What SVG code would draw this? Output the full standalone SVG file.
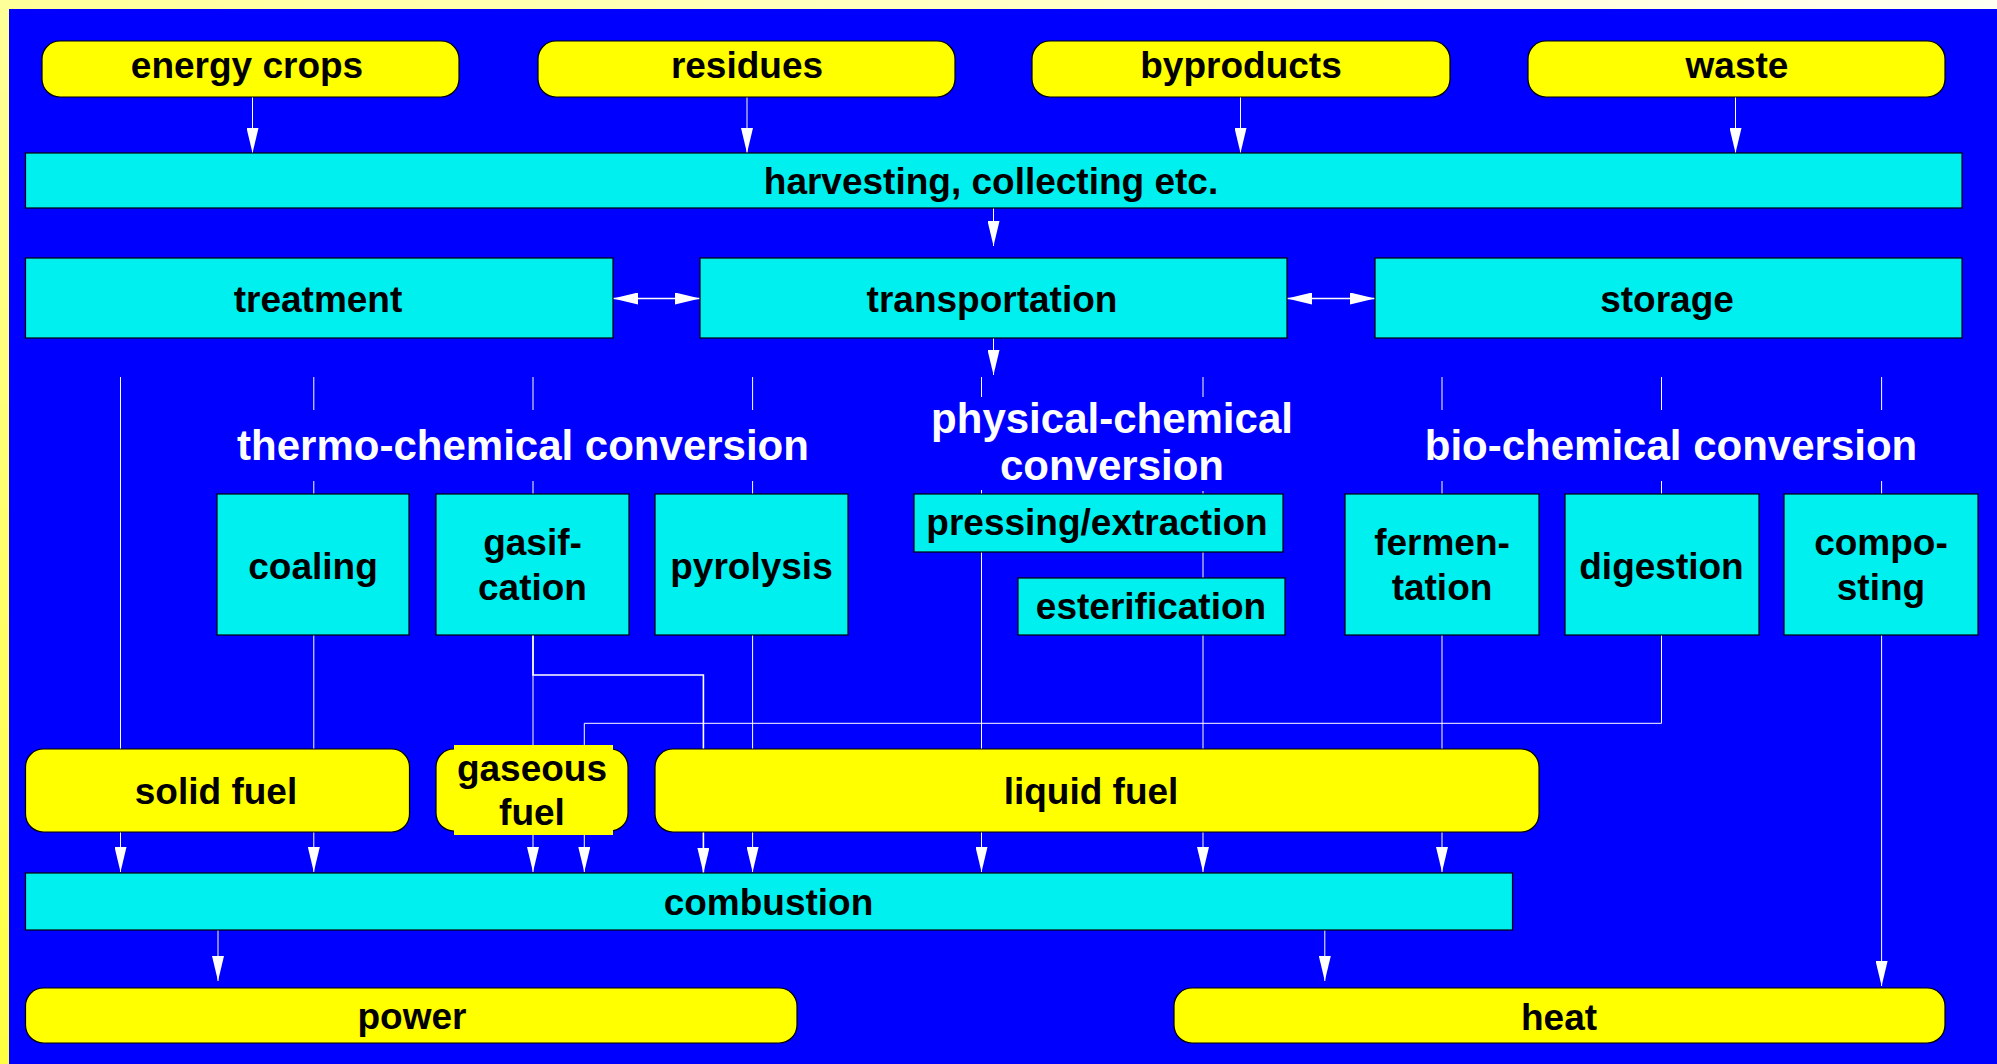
<svg xmlns="http://www.w3.org/2000/svg" width="1997" height="1064" viewBox="0 0 1997 1064">
<defs>
<linearGradient id="frame" x1="0" y1="1" x2="1" y2="0">
<stop offset="0" stop-color="#FFFF40"/>
<stop offset="0.5" stop-color="#FFFF99"/>
<stop offset="1" stop-color="#FFFFF2"/>
</linearGradient>
<marker id="ah" viewBox="0 0 25 12" refX="25" refY="6" markerWidth="25" markerHeight="12" markerUnits="userSpaceOnUse" orient="auto-start-reverse">
<path d="M0,0 L25,6 L0,12 z" fill="#FFFFFF"/>
</marker>
<style>
.y{fill:#FFFF00;stroke:#000;stroke-width:1.2}
.c{fill:#00EFEF;stroke:#000;stroke-width:1.2}
.t{font-family:"Liberation Sans",Arial,sans-serif;font-weight:bold;font-size:37px;fill:#000;text-anchor:middle}
.h{font-family:"Liberation Sans",Arial,sans-serif;font-weight:bold;font-size:42px;fill:#FFFFFF;text-anchor:middle}
.l{fill:none;stroke:#FFFFFF;stroke-width:1}
.a{fill:none;stroke:#FFFFFF;stroke-width:1;marker-end:url(#ah)}
.d{fill:none;stroke:#FFFFFF;stroke-width:1.5;marker-end:url(#ah);marker-start:url(#ah)}
</style>
</defs>
<rect x="0" y="0" width="1997" height="1064" fill="url(#frame)"/>
<rect x="9" y="9" width="1988" height="1055" fill="#0000FF"/>

<g id="connectors">
<path class="a" d="M252.5,97 V153"/>
<path class="a" d="M747,97 V153"/>
<path class="a" d="M1240.5,97 V153"/>
<path class="a" d="M1735.5,97 V153"/>
<path class="a" d="M993.5,208 V246"/>
<path class="d" d="M613,298.5 H700"/>
<path class="d" d="M1287,298.5 H1375"/>
<path class="a" d="M993.5,338 V375"/>
<path class="a" d="M120.5,377 V872"/>
<path class="l" d="M313.8,377 V410"/>
<path class="a" d="M313.8,481 V872"/>
<path class="l" d="M533,377 V410"/>
<path class="a" d="M533,481 V872"/>
<path class="l" d="M752.6,377 V410"/>
<path class="a" d="M752.6,481 V872"/>
<path class="l" d="M981.5,377 V397"/>
<path class="a" d="M981.5,490 V872"/>
<path class="l" d="M1203,377 V397"/>
<path class="a" d="M1203,491 V872"/>
<path class="l" d="M1442,377 V410"/>
<path class="a" d="M1442,481 V872"/>
<path class="l" d="M1661.5,377 V410"/>
<path class="a" d="M1661.5,481 V723.3 H584.3 V872"/>
<path class="l" d="M1881.6,377 V410"/>
<path class="a" d="M1881.6,481 V986"/>
<path class="a" style="stroke-width:1.6" d="M533,635 V675 H703.4 V873"/>
<path class="a" d="M218,930 V981"/>
<path class="a" d="M1324.8,930 V981"/>
</g>

<g id="energy-crops"><rect class="y" x="42" y="41" width="417" height="56" rx="18"/><text class="t" x="247" y="77.5">energy crops</text></g>
<g id="residues"><rect class="y" x="538" y="41" width="417" height="56" rx="18"/><text class="t" x="747" y="77.5">residues</text></g>
<g id="byproducts"><rect class="y" x="1032" y="41" width="418" height="56" rx="18"/><text class="t" x="1241" y="77.5">byproducts</text></g>
<g id="waste"><rect class="y" x="1528" y="41" width="417" height="56" rx="18"/><text class="t" x="1737" y="77.5">waste</text></g>

<g id="harvesting"><rect class="c" x="25.5" y="153" width="1936.5" height="55"/><text class="t" x="991" y="193.5">harvesting, collecting etc.</text></g>
<g id="treatment"><rect class="c" x="25.5" y="258" width="587.5" height="80"/><text class="t" x="318" y="311.5">treatment</text></g>
<g id="transportation"><rect class="c" x="700" y="258" width="587" height="80"/><text class="t" x="992" y="311.5">transportation</text></g>
<g id="storage"><rect class="c" x="1375" y="258" width="587" height="80"/><text class="t" x="1667" y="311.5">storage</text></g>

<g id="thermo-chemical-conversion"><text class="h" x="523" y="460">thermo-chemical conversion</text></g>
<g id="physical-chemical-conversion"><text class="h" x="1112" y="433">physical-chemical</text><text class="h" x="1112" y="480">conversion</text></g>
<g id="bio-chemical-conversion"><text class="h" x="1671" y="460">bio-chemical conversion</text></g>

<g id="coaling"><rect class="c" x="217" y="494" width="192" height="141"/><text class="t" x="313" y="579">coaling</text></g>
<g id="gasification"><rect class="c" x="436" y="494" width="193" height="141"/><text class="t" x="532.5" y="555">gasif-</text><text class="t" x="532.5" y="600">cation</text></g>
<g id="pyrolysis"><rect class="c" x="655" y="494" width="193" height="141"/><text class="t" x="751.5" y="579">pyrolysis</text></g>
<g id="pressing-extraction"><rect class="c" x="914" y="494" width="369" height="58"/><text class="t" x="1097" y="535">pressing/extraction</text></g>
<g id="esterification"><rect class="c" x="1018" y="578" width="267" height="57"/><text class="t" x="1151" y="618.5">esterification</text></g>
<g id="fermentation"><rect class="c" x="1345" y="494" width="194" height="141"/><text class="t" x="1442" y="555">fermen-</text><text class="t" x="1442" y="600">tation</text></g>
<g id="digestion"><rect class="c" x="1565" y="494" width="194" height="141"/><text class="t" x="1661.5" y="578.5">digestion</text></g>
<g id="composting"><rect class="c" x="1784" y="494" width="194" height="141"/><text class="t" x="1881" y="555">compo-</text><text class="t" x="1881" y="600">sting</text></g>

<g id="solid-fuel"><rect class="y" x="25.5" y="749" width="384" height="83" rx="18"/><text class="t" x="216" y="804">solid fuel</text></g>
<g id="gaseous-fuel"><rect class="y" x="436" y="749" width="192" height="82" rx="18"/><rect x="454" y="745" width="159" height="90" fill="#FFFF00"/><text class="t" x="532" y="781">gaseous</text><text class="t" x="532" y="825">fuel</text></g>
<g id="liquid-fuel"><rect class="y" x="655" y="749" width="884" height="83" rx="18"/><text class="t" x="1091" y="804">liquid fuel</text></g>

<g id="combustion"><rect class="c" x="25.5" y="873" width="1487" height="57"/><text class="t" x="768.5" y="915">combustion</text></g>
<g id="power"><rect class="y" x="25.5" y="988" width="771.5" height="55" rx="18"/><text class="t" x="412" y="1028.5">power</text></g>
<g id="heat"><rect class="y" x="1174" y="988" width="771" height="55" rx="18"/><text class="t" x="1559" y="1029.5">heat</text></g>
</svg>
